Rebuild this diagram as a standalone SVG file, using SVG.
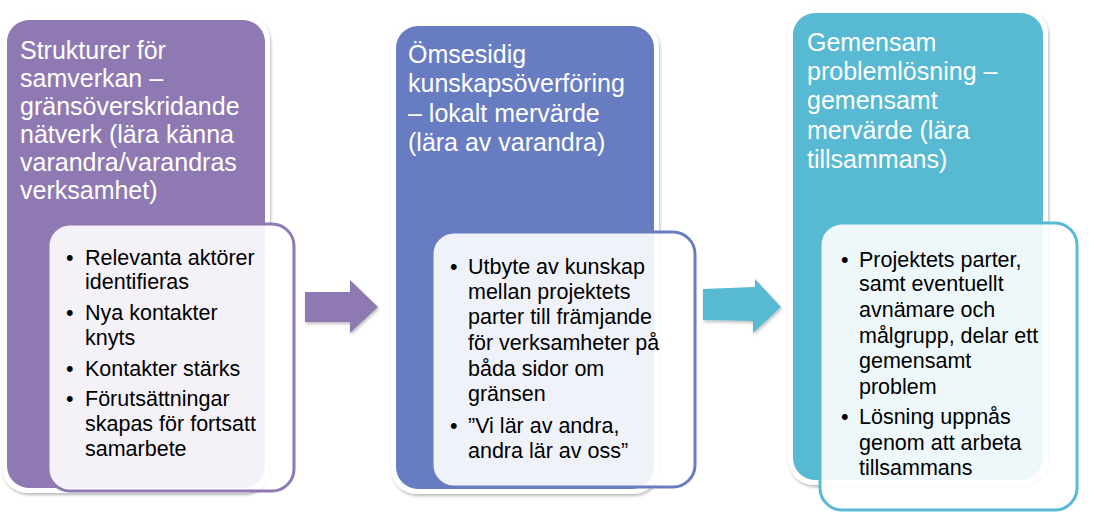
<svg xmlns="http://www.w3.org/2000/svg" width="1094" height="521" viewBox="0 0 1094 521">
<defs>
<filter id="sh" x="-10%" y="-10%" width="120%" height="120%">
<feDropShadow dx="1" dy="2" stdDeviation="1.8" flood-color="#000" flood-opacity="0.28"/>
</filter>
<filter id="ash" x="-20%" y="-20%" width="140%" height="140%">
<feDropShadow dx="1" dy="2" stdDeviation="1.5" flood-color="#000" flood-opacity="0.25"/>
</filter>
<style>
.frame{fill:#ffffff;filter:url(#sh)}
.title{font-family:"Liberation Sans",Arial,sans-serif;font-size:25px;fill:#ffffff}
.body{font-family:"Liberation Sans",Arial,sans-serif;font-size:21.5px;fill:#000000}
.card{fill:#ffffff;fill-opacity:0.9;stroke-width:3}
</style>
</defs>
<rect width="1094" height="521" fill="#ffffff"/>

<g id="node1">
<rect class="frame" x="2" y="15" width="268" height="478" rx="26"/>
<rect x="7" y="20" width="258" height="468" rx="22" fill="#8f79b3"/>
<text class="title">
<tspan x="20" y="59">Strukturer för</tspan>
<tspan x="20" y="87">samverkan –</tspan>
<tspan x="20" y="115">gränsöverskridande</tspan>
<tspan x="20" y="143">nätverk (lära känna</tspan>
<tspan x="20" y="171">varandra/varandras</tspan>
<tspan x="20" y="199">verksamhet)</tspan>
</text>
<rect class="card" x="48" y="224" width="246" height="267" rx="22" stroke="#8f79b3"/>
<text class="body">
<tspan x="66" y="265">•</tspan><tspan x="85" y="265">Relevanta aktörer</tspan>
<tspan x="85" y="289">identifieras</tspan>
<tspan x="66" y="320">•</tspan><tspan x="85" y="320">Nya kontakter</tspan>
<tspan x="85" y="345">knyts</tspan>
<tspan x="66" y="376">•</tspan><tspan x="85" y="376">Kontakter stärks</tspan>
<tspan x="66" y="406">•</tspan><tspan x="85" y="406">Förutsättningar</tspan>
<tspan x="85" y="431">skapas för fortsatt</tspan>
<tspan x="85" y="456">samarbete</tspan>
</text>
</g>

<g id="node2">
<rect class="frame" x="391" y="21" width="268" height="473" rx="26"/>
<rect x="396" y="26" width="258" height="463" rx="22" fill="#687cc1"/>
<text class="title">
<tspan x="408" y="63">Ömsesidig</tspan>
<tspan x="408" y="92">kunskapsöverföring</tspan>
<tspan x="408" y="122">– lokalt mervärde</tspan>
<tspan x="408" y="151">(lära av varandra)</tspan>
</text>
<rect class="card" x="432" y="232" width="263" height="255" rx="22" stroke="#687cc1"/>
<text class="body">
<tspan x="450" y="274">•</tspan><tspan x="468" y="274">Utbyte av kunskap</tspan>
<tspan x="468" y="299">mellan projektets</tspan>
<tspan x="468" y="324">parter till främjande</tspan>
<tspan x="468" y="350">för verksamheter på</tspan>
<tspan x="468" y="376">båda sidor om</tspan>
<tspan x="468" y="401">gränsen</tspan>
<tspan x="450" y="433">•</tspan><tspan x="468" y="433">”Vi lär av andra,</tspan>
<tspan x="468" y="458">andra lär av oss”</tspan>
</text>
</g>

<g id="node3">
<rect class="frame" x="788" y="8" width="260" height="477" rx="26"/>
<rect x="793" y="13" width="250" height="467" rx="22" fill="#58b9d3"/>
<text class="title">
<tspan x="807" y="51">Gemensam</tspan>
<tspan x="807" y="80">problemlösning –</tspan>
<tspan x="807" y="109">gemensamt</tspan>
<tspan x="807" y="139">mervärde (lära</tspan>
<tspan x="807" y="168">tillsammans)</tspan>
</text>
<rect class="card" x="820" y="223" width="257" height="287" rx="22" stroke="#58b9d3"/>
<text class="body">
<tspan x="841" y="267">•</tspan><tspan x="859" y="267">Projektets parter,</tspan>
<tspan x="859" y="291">samt eventuellt</tspan>
<tspan x="859" y="317">avnämare och</tspan>
<tspan x="859" y="343">målgrupp, delar ett</tspan>
<tspan x="859" y="368">gemensamt</tspan>
<tspan x="859" y="394">problem</tspan>
<tspan x="841" y="424">•</tspan><tspan x="859" y="424">Lösning uppnås</tspan>
<tspan x="859" y="450">genom att arbeta</tspan>
<tspan x="859" y="475">tillsammans</tspan>
</text>
</g>

<g id="connectors">
<polygon points="305,292 350,292 350,280 378,307 350,333 350,322 305,322" fill="#8f79b3" filter="url(#ash)"/>
<polygon points="703,289 755,287 755,279 781,307 753,333 753,321 703,320" fill="#58b9d3" filter="url(#ash)"/>
</g>
</svg>
